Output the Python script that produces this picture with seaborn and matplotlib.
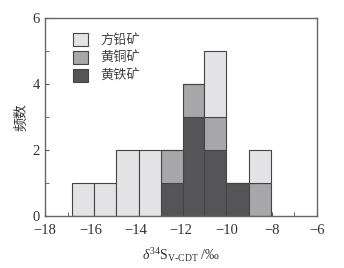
import numpy as np
import pandas as pd
import matplotlib
matplotlib.use("Agg")
import matplotlib.pyplot as plt
import seaborn as sns
from matplotlib.ticker import MultipleLocator

# ---- data ----
bin_edges = [-16.8, -15.82, -14.85, -13.87, -12.9, -11.93, -10.96, -9.99, -9.0, -8.02]
minerals = ["方铅矿", "黄铜矿", "黄铁矿"]
galena = [1, 1, 2, 2, 0, 0, 2, 0, 1]
chalcopyrite = [0, 0, 0, 0, 1, 1, 1, 0, 1]
pyrite = [0, 0, 0, 0, 1, 3, 2, 1, 0]
colors = ["#e3e3e5", "#a7a7a9", "#555557"]

centers = [(a + b) / 2 for a, b in zip(bin_edges[:-1], bin_edges[1:])]
rows = []
for name, counts in zip(minerals, [galena, chalcopyrite, pyrite]):
    for c, n in zip(centers, counts):
        rows.append({"x": c, "mineral": name, "w": n})
df = pd.DataFrame(rows)

sns.set_style("ticks")
plt.rcParams["font.family"] = ["Liberation Serif", "Noto Sans CJK SC"]
plt.rcParams["mathtext.fontset"] = "custom"
plt.rcParams["mathtext.rm"] = "Liberation Serif"
plt.rcParams["mathtext.it"] = "Liberation Serif:italic"

fig = plt.figure(figsize=(3.44, 2.68), dpi=100)
ax = fig.add_axes([0.131, 0.194, 0.79, 0.739])

sns.histplot(data=df, x="x", hue="mineral", weights="w", bins=bin_edges,
             multiple="stack", hue_order=minerals,
             palette=dict(zip(minerals, colors)), alpha=1,
             edgecolor="#444444", linewidth=0.8, ax=ax)

ax.set_xlim(-18, -6)
ax.set_ylim(0, 6)
ax.xaxis.set_major_locator(MultipleLocator(2))
ax.xaxis.set_minor_locator(MultipleLocator(1))
ax.yaxis.set_major_locator(MultipleLocator(2))
ax.yaxis.set_minor_locator(MultipleLocator(1))
ax.tick_params(which="both", direction="in", color="#555555", labelsize=10.5,
               labelcolor="#333333", length=3)
ax.tick_params(axis="x", which="both", pad=6)
ax.tick_params(axis="y", which="both", pad=4)
for s in ax.spines.values():
    s.set_color("#666666")
    s.set_linewidth(1.0)

ax.set_xlabel(r"$\delta^{34}\mathrm{S}_{\mathrm{\text{V-CDT}}}$ /‰", fontsize=10,
              color="#333333", labelpad=6)
ax.set_ylabel("频数", fontsize=10, color="#333333", family="Noto Sans CJK SC",
              labelpad=3)

sns.move_legend(ax, "upper left", bbox_to_anchor=(0.06, 0.985), frameon=False,
                title=None, prop={"family": "Noto Sans CJK SC", "size": 9.5},
                handlelength=1.15, handleheight=1.15, handletextpad=0.9,
                labelspacing=0.3)
for t in ax.get_legend().get_texts():
    t.set_color("#444444")

fig.savefig("out.png", dpi=100)
